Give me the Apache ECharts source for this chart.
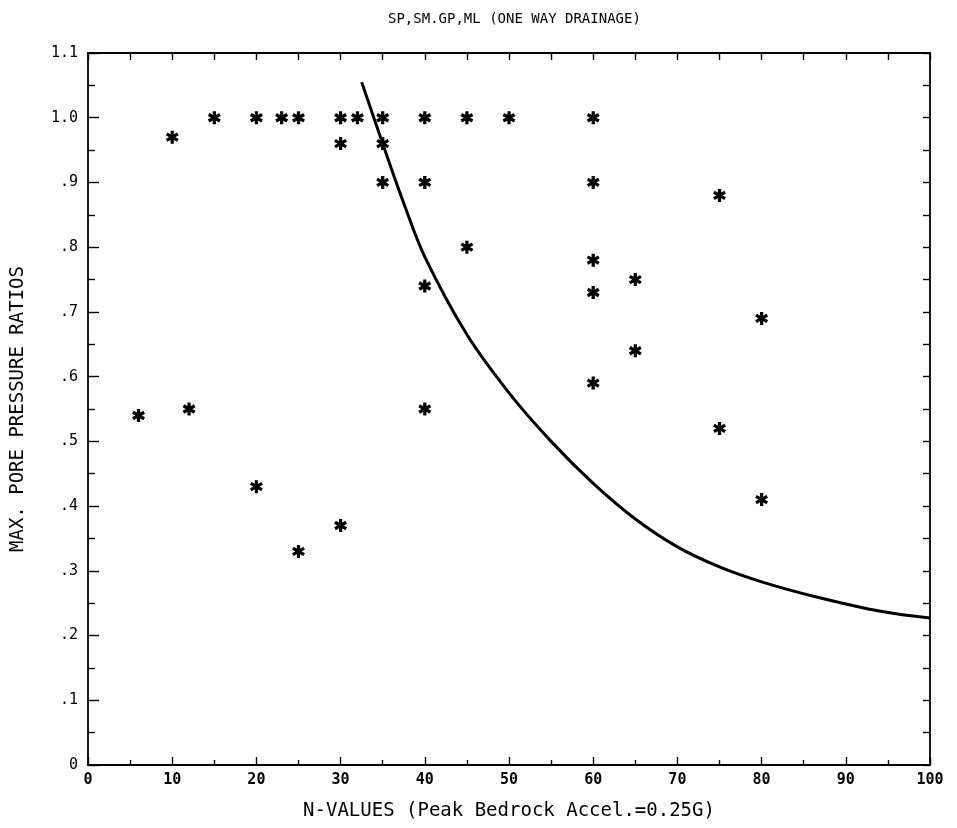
<!DOCTYPE html>
<html>
<head>
<meta charset="utf-8">
<script src="https://cdn.jsdelivr.net/npm/echarts@6/dist/echarts.min.js"></script>
<style>
html,body{margin:0;padding:0;background:#fff;}
#chart{width:957px;height:828px;}
</style>
</head>
<body>
<div id="chart"></div>
<script>
// Data
const titleText = 'SP,SM.GP,ML (ONE WAY DRAINAGE)';
const xName = 'N-VALUES (Peak Bedrock Accel.=0.25G)';
const yName = 'MAX. PORE PRESSURE RATIOS';
const xTickLabels = ['0','10','20','30','40','50','60','70','80','90','100'];
const yTickLabels = ['0','.1','.2','.3','.4','.5','.6','.7','.8','.9','1.0','1.1'];

const nValues = [6, 10, 12, 15, 20, 20, 23, 25, 25, 30, 30, 30, 32, 35, 35, 35,
  40, 40, 40, 40, 45, 45, 50, 60, 60, 60, 60, 60, 65, 65, 75, 75, 80, 80];
const ratios = [0.54, 0.97, 0.55, 1.0, 1.0, 0.43, 1.0, 1.0, 0.33, 1.0, 0.96, 0.37, 1.0, 1.0, 0.96, 0.90,
  1.0, 0.90, 0.74, 0.55, 1.0, 0.80, 1.0, 1.0, 0.90, 0.78, 0.73, 0.59, 0.75, 0.64, 0.88, 0.52, 0.69, 0.41];

const curveN = [32.5, 35, 37.5, 40, 45, 50, 55, 60, 65, 70, 75, 80, 86.4, 94.3, 100];
const curveR = [1.055, 0.96, 0.868, 0.785, 0.665, 0.575, 0.50, 0.435, 0.38, 0.337, 0.306, 0.283, 0.26, 0.237, 0.227];

const ink = '#000';
const mono = 'DejaVu Sans Mono';
const star = 'path://M-1.5,-6 L1.5,-6 L1.5,6 L-1.5,6 Z M4.446,4.299 L-5.946,-1.701 L-4.446,-4.299 L5.946,1.701 Z M-5.946,1.701 L4.446,-4.299 L5.946,-1.701 L-4.446,4.299 Z';

const chart = echarts.init(document.getElementById('chart'), null, {renderer: 'canvas'});

function xAxisCfg(pos, main) {
  return {
    type: 'value', min: 0, max: 100, interval: 10, position: pos,
    axisLine: {show: true, onZero: false, lineStyle: {color: ink, width: 1.8}},
    axisTick: {show: true, inside: true, length: main ? 8 : 7, lineStyle: {color: ink, width: 1.4}},
    minorTick: {show: true, splitNumber: 2, length: main ? 5 : 7, lineStyle: {color: ink, width: 1.4}},
    splitLine: {show: false},
    axisLabel: main ? {show: true, margin: 8, color: ink, fontFamily: mono, fontSize: 15, fontWeight: 'bold',
      formatter: (v) => xTickLabels[Math.round(v / 10)]} : {show: false},
    name: main ? xName : '', nameLocation: 'middle', nameGap: 37,
    nameTextStyle: {color: ink, fontFamily: mono, fontSize: 19}
  };
}
function yAxisCfg(pos, main) {
  return {
    type: 'value', min: 0, max: 1.1, interval: 0.1, position: pos,
    axisLine: {show: true, onZero: false, lineStyle: {color: ink, width: 1.8}},
    axisTick: {show: true, inside: true, length: main ? 11 : 7, lineStyle: {color: ink, width: 1.4}},
    minorTick: {show: true, splitNumber: 2, length: 7, lineStyle: {color: ink, width: 1.4}},
    splitLine: {show: false},
    axisLabel: main ? {show: true, margin: 10, color: ink, fontFamily: mono, fontSize: 15,
      formatter: (v) => yTickLabels[Math.round(v * 10)]} : {show: false},
    name: main ? yName : '', nameLocation: 'middle', nameGap: 60, nameRotate: 90,
    nameTextStyle: {color: ink, fontFamily: mono, fontSize: 19}
  };
}

chart.setOption({
  animation: false,
  backgroundColor: '#fff',
  title: {
    text: titleText, left: 383, top: 7,
    textStyle: {color: ink, fontFamily: mono, fontSize: 14, fontWeight: 'normal'}
  },
  grid: {left: 88, right: 27, top: 53, bottom: 63, containLabel: false, outerBoundsMode: 'none'},
  xAxis: [xAxisCfg('bottom', true), xAxisCfg('top', false)],
  yAxis: [yAxisCfg('left', true), yAxisCfg('right', false)],
  series: [
    {
      type: 'line', smooth: 0.35, symbol: 'none',
      data: curveN.map((n, i) => [n, curveR[i]]),
      lineStyle: {color: ink, width: 3}
    },
    {
      type: 'scatter', symbol: star, symbolSize: 13, symbolKeepAspect: true,
      data: nValues.map((n, i) => [n, ratios[i]]),
      itemStyle: {color: ink, opacity: 1}
    }
  ]
});
</script>
</body>
</html>
